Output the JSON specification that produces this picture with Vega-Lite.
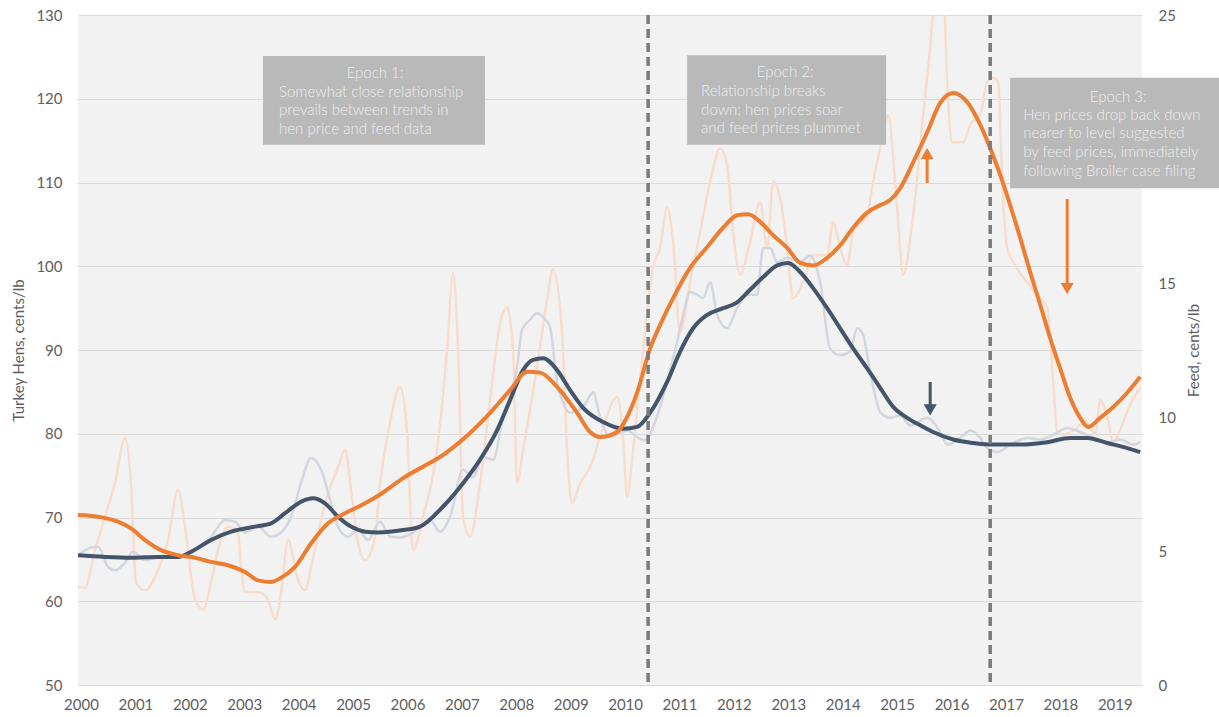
{
"$schema":"https://vega.github.io/schema/vega-lite/v6.json",
"width":1064,"height":670,
"autosize":{"type":"none"},
"padding":{"left":78,"top":15,"right":77,"bottom":32},
"background":"white",
"config":{"view":{"fill":"#f2f2f2","stroke":null},"font":"Lato","axis":{"labelFont":"Lato","titleFont":"Lato","labelFontWeight":400,"labelColor":"#606060","titleColor":"#606060","domain":false,"ticks":false,"titleFontWeight":400}},
"datasets":{
"henRaw":[{"t":1999.945,"v":61.7},{"t":2000.074,"v":61.6},{"t":2000.257,"v":66.1},{"t":2000.441,"v":70.1},{"t":2000.625,"v":74.1},{"t":2000.809,"v":79.5},{"t":2000.919,"v":74.1},{"t":2001.011,"v":62.2},{"t":2001.176,"v":61.3},{"t":2001.415,"v":63.7},{"t":2001.599,"v":67.3},{"t":2001.783,"v":73.3},{"t":2001.912,"v":68.9},{"t":2002.096,"v":60.2},{"t":2002.243,"v":59.0},{"t":2002.390,"v":62.2},{"t":2002.518,"v":66.1},{"t":2002.702,"v":68.9},{"t":2002.886,"v":68.2},{"t":2002.941,"v":64.1},{"t":2003.015,"v":61.1},{"t":2003.254,"v":61.1},{"t":2003.438,"v":60.2},{"t":2003.566,"v":57.8},{"t":2003.676,"v":61.0},{"t":2003.805,"v":67.3},{"t":2003.989,"v":62.5},{"t":2004.118,"v":61.3},{"t":2004.228,"v":64.1},{"t":2004.485,"v":71.7},{"t":2004.724,"v":76.0},{"t":2004.853,"v":78.1},{"t":2004.963,"v":73.3},{"t":2005.092,"v":67.0},{"t":2005.221,"v":64.9},{"t":2005.404,"v":67.7},{"t":2005.496,"v":74.1},{"t":2005.680,"v":81.3},{"t":2005.864,"v":85.6},{"t":2005.993,"v":80.1},{"t":2006.103,"v":66.1},{"t":2006.287,"v":70.1},{"t":2006.544,"v":78.1},{"t":2006.728,"v":90.0},{"t":2006.838,"v":99.2},{"t":2006.930,"v":90.0},{"t":2007.022,"v":70.1},{"t":2007.151,"v":67.7},{"t":2007.335,"v":74.1},{"t":2007.518,"v":84.0},{"t":2007.702,"v":93.2},{"t":2007.831,"v":95.1},{"t":2007.941,"v":90.0},{"t":2008.015,"v":74.1},{"t":2008.125,"v":78.1},{"t":2008.382,"v":88.0},{"t":2008.566,"v":96.0},{"t":2008.676,"v":99.6},{"t":2008.842,"v":92.0},{"t":2008.934,"v":78.1},{"t":2009.026,"v":71.7},{"t":2009.173,"v":74.1},{"t":2009.357,"v":76.0},{"t":2009.596,"v":80.8},{"t":2009.853,"v":84.4},{"t":2009.963,"v":79.6},{"t":2010.037,"v":72.5},{"t":2010.147,"v":78.1},{"t":2010.331,"v":90.0},{"t":2010.515,"v":99.9},{"t":2010.643,"v":102.2},{"t":2010.772,"v":107.0},{"t":2010.882,"v":102.9},{"t":2011.011,"v":92.1},{"t":2011.195,"v":98.1},{"t":2011.379,"v":104.1},{"t":2011.563,"v":110.1},{"t":2011.746,"v":114.1},{"t":2011.875,"v":112.1},{"t":2011.985,"v":104.1},{"t":2012.114,"v":99.0},{"t":2012.298,"v":102.9},{"t":2012.482,"v":107.7},{"t":2012.610,"v":102.2},{"t":2012.721,"v":110.1},{"t":2012.849,"v":108.2},{"t":2012.978,"v":102.2},{"t":2013.088,"v":96.2},{"t":2013.272,"v":98.1},{"t":2013.456,"v":101.3},{"t":2013.713,"v":101.3},{"t":2013.824,"v":105.3},{"t":2013.952,"v":102.2},{"t":2014.081,"v":100.1},{"t":2014.191,"v":104.1},{"t":2014.449,"v":106.1},{"t":2014.559,"v":110.1},{"t":2014.688,"v":114.1},{"t":2014.835,"v":118.0},{"t":2015.000,"v":106.9},{"t":2015.110,"v":99.0},{"t":2015.294,"v":106.1},{"t":2015.478,"v":118.0},{"t":2015.607,"v":126.1},{"t":2015.717,"v":134.0},{"t":2015.846,"v":134.0},{"t":2015.919,"v":122.0},{"t":2016.011,"v":114.8},{"t":2016.213,"v":114.8},{"t":2016.342,"v":116.9},{"t":2016.526,"v":118.1},{"t":2016.654,"v":122.0},{"t":2016.765,"v":122.5},{"t":2016.857,"v":122.0},{"t":2016.930,"v":110.1},{"t":2017.022,"v":102.2},{"t":2017.132,"v":100.5},{"t":2017.390,"v":98.1},{"t":2017.574,"v":96.6},{"t":2017.757,"v":95.0},{"t":2017.868,"v":86.2},{"t":2017.941,"v":80.2},{"t":2018.051,"v":79.9},{"t":2018.272,"v":80.5},{"t":2018.456,"v":81.5},{"t":2018.640,"v":80.0},{"t":2018.732,"v":84.0},{"t":2018.860,"v":82.0},{"t":2018.971,"v":79.0},{"t":2019.099,"v":80.5},{"t":2019.283,"v":83.5},{"t":2019.467,"v":85.5}],
"henTrend":[{"t":1999.945,"v":70.3},{"t":2000.313,"v":70.1},{"t":2000.680,"v":69.5},{"t":2000.919,"v":68.7},{"t":2001.177,"v":67.3},{"t":2001.471,"v":66.1},{"t":2001.783,"v":65.5},{"t":2002.096,"v":65.2},{"t":2002.390,"v":64.7},{"t":2002.702,"v":64.3},{"t":2003.015,"v":63.5},{"t":2003.254,"v":62.5},{"t":2003.493,"v":62.3},{"t":2003.677,"v":62.8},{"t":2003.934,"v":64.1},{"t":2004.228,"v":66.9},{"t":2004.541,"v":69.3},{"t":2004.853,"v":70.5},{"t":2005.221,"v":71.7},{"t":2005.460,"v":72.6},{"t":2005.919,"v":74.7},{"t":2006.728,"v":77.8},{"t":2007.151,"v":80.1},{"t":2007.519,"v":82.5},{"t":2007.886,"v":85.2},{"t":2008.199,"v":87.4},{"t":2008.438,"v":87.3},{"t":2008.750,"v":85.6},{"t":2009.118,"v":82.5},{"t":2009.357,"v":80.2},{"t":2009.541,"v":79.6},{"t":2009.853,"v":80.2},{"t":2010.037,"v":82.0},{"t":2010.221,"v":84.9},{"t":2010.460,"v":90.2},{"t":2010.644,"v":93.0},{"t":2010.883,"v":96.2},{"t":2011.195,"v":99.8},{"t":2011.508,"v":102.3},{"t":2011.802,"v":104.6},{"t":2012.059,"v":106.1},{"t":2012.261,"v":106.2},{"t":2012.482,"v":105.3},{"t":2012.721,"v":103.7},{"t":2012.978,"v":102.2},{"t":2013.217,"v":100.4},{"t":2013.456,"v":100.1},{"t":2013.713,"v":101.0},{"t":2013.952,"v":102.5},{"t":2014.191,"v":104.6},{"t":2014.449,"v":106.4},{"t":2014.688,"v":107.3},{"t":2014.871,"v":107.9},{"t":2015.055,"v":109.3},{"t":2015.294,"v":112.4},{"t":2015.552,"v":116.0},{"t":2015.791,"v":119.5},{"t":2016.030,"v":120.7},{"t":2016.287,"v":119.6},{"t":2016.526,"v":116.9},{"t":2016.710,"v":114.1},{"t":2016.894,"v":110.9},{"t":2017.077,"v":107.3},{"t":2017.261,"v":103.4},{"t":2017.445,"v":99.3},{"t":2017.629,"v":95.4},{"t":2017.813,"v":91.4},{"t":2017.996,"v":87.8},{"t":2018.180,"v":84.3},{"t":2018.364,"v":81.9},{"t":2018.511,"v":80.8},{"t":2018.732,"v":81.9},{"t":2018.971,"v":83.2},{"t":2019.228,"v":84.9},{"t":2019.467,"v":86.8}],
"feedRaw":[{"t":1999.945,"f":4.84},{"t":2000.184,"f":5.13},{"t":2000.313,"f":5.16},{"t":2000.496,"f":4.41},{"t":2000.625,"f":4.28},{"t":2000.809,"f":4.56},{"t":2000.956,"f":4.97},{"t":2001.176,"f":4.66},{"t":2001.471,"f":4.78},{"t":2001.783,"f":4.75},{"t":2002.096,"f":5.03},{"t":2002.390,"f":5.53},{"t":2002.647,"f":6.16},{"t":2002.831,"f":6.09},{"t":2003.015,"f":5.69},{"t":2003.254,"f":5.91},{"t":2003.493,"f":5.53},{"t":2003.676,"f":5.69},{"t":2003.860,"f":6.28},{"t":2004.044,"f":7.53},{"t":2004.228,"f":8.47},{"t":2004.412,"f":8.03},{"t":2004.596,"f":6.78},{"t":2004.724,"f":5.91},{"t":2004.908,"f":5.53},{"t":2005.092,"f":5.78},{"t":2005.276,"f":5.41},{"t":2005.496,"f":6.09},{"t":2005.680,"f":5.53},{"t":2005.864,"f":5.50},{"t":2006.103,"f":5.69},{"t":2006.415,"f":6.16},{"t":2006.599,"f":5.72},{"t":2006.783,"f":6.28},{"t":2007.022,"f":8.03},{"t":2007.206,"f":7.75},{"t":2007.390,"f":8.50},{"t":2007.574,"f":8.41},{"t":2007.757,"f":10.00},{"t":2008.015,"f":11.88},{"t":2008.107,"f":13.25},{"t":2008.254,"f":13.63},{"t":2008.382,"f":13.88},{"t":2008.493,"f":13.72},{"t":2008.621,"f":13.34},{"t":2008.750,"f":11.28},{"t":2008.860,"f":10.53},{"t":2008.989,"f":10.16},{"t":2009.228,"f":10.38},{"t":2009.412,"f":10.91},{"t":2009.540,"f":10.00},{"t":2009.724,"f":9.25},{"t":2010.037,"f":9.50},{"t":2010.221,"f":9.25},{"t":2010.368,"f":9.13},{"t":2010.551,"f":9.81},{"t":2010.772,"f":11.31},{"t":2010.956,"f":12.81},{"t":2011.066,"f":13.81},{"t":2011.195,"f":14.66},{"t":2011.324,"f":14.56},{"t":2011.434,"f":14.44},{"t":2011.563,"f":15.03},{"t":2011.691,"f":13.81},{"t":2011.875,"f":13.31},{"t":2012.059,"f":14.06},{"t":2012.243,"f":14.56},{"t":2012.426,"f":14.56},{"t":2012.537,"f":16.31},{"t":2012.665,"f":16.31},{"t":2012.794,"f":15.78},{"t":2012.978,"f":15.94},{"t":2013.217,"f":15.78},{"t":2013.401,"f":16.03},{"t":2013.585,"f":15.03},{"t":2013.768,"f":12.56},{"t":2013.952,"f":12.31},{"t":2014.136,"f":12.44},{"t":2014.265,"f":13.31},{"t":2014.375,"f":13.06},{"t":2014.504,"f":11.69},{"t":2014.688,"f":10.19},{"t":2014.871,"f":9.97},{"t":2015.055,"f":10.06},{"t":2015.239,"f":9.69},{"t":2015.551,"f":9.97},{"t":2015.790,"f":9.44},{"t":2015.919,"f":8.97},{"t":2016.158,"f":9.22},{"t":2016.342,"f":9.50},{"t":2016.526,"f":9.22},{"t":2016.654,"f":8.84},{"t":2016.838,"f":8.69},{"t":2017.077,"f":8.97},{"t":2017.390,"f":9.22},{"t":2017.629,"f":9.16},{"t":2017.868,"f":9.34},{"t":2018.125,"f":9.59},{"t":2018.364,"f":9.44},{"t":2018.603,"f":9.22},{"t":2018.860,"f":9.06},{"t":2019.099,"f":9.16},{"t":2019.338,"f":8.97},{"t":2019.467,"f":9.06}],
"feedTrend":[{"t":1999.945,"f":4.84},{"t":2000.441,"f":4.78},{"t":2000.919,"f":4.75},{"t":2001.416,"f":4.78},{"t":2001.783,"f":4.78},{"t":2002.022,"f":4.97},{"t":2002.390,"f":5.41},{"t":2002.758,"f":5.72},{"t":2003.199,"f":5.91},{"t":2003.493,"f":6.03},{"t":2003.750,"f":6.41},{"t":2004.044,"f":6.84},{"t":2004.265,"f":6.97},{"t":2004.485,"f":6.78},{"t":2004.724,"f":6.28},{"t":2004.963,"f":5.91},{"t":2005.221,"f":5.72},{"t":2005.460,"f":5.69},{"t":2005.919,"f":5.78},{"t":2006.232,"f":5.91},{"t":2006.655,"f":6.66},{"t":2007.022,"f":7.53},{"t":2007.335,"f":8.41},{"t":2007.647,"f":9.50},{"t":2007.886,"f":10.63},{"t":2008.125,"f":11.75},{"t":2008.309,"f":12.13},{"t":2008.493,"f":12.19},{"t":2008.750,"f":11.75},{"t":2008.989,"f":11.00},{"t":2009.228,"f":10.34},{"t":2009.596,"f":9.81},{"t":2009.963,"f":9.56},{"t":2010.221,"f":9.63},{"t":2010.460,"f":10.16},{"t":2010.772,"f":11.31},{"t":2011.011,"f":12.44},{"t":2011.250,"f":13.31},{"t":2011.508,"f":13.81},{"t":2011.802,"f":14.06},{"t":2012.059,"f":14.28},{"t":2012.298,"f":14.75},{"t":2012.537,"f":15.22},{"t":2012.794,"f":15.66},{"t":2012.996,"f":15.75},{"t":2013.217,"f":15.41},{"t":2013.456,"f":14.81},{"t":2013.713,"f":14.06},{"t":2013.952,"f":13.31},{"t":2014.191,"f":12.56},{"t":2014.449,"f":11.81},{"t":2014.688,"f":11.09},{"t":2014.927,"f":10.38},{"t":2015.184,"f":9.97},{"t":2015.423,"f":9.69},{"t":2015.662,"f":9.44},{"t":2016.030,"f":9.16},{"t":2016.397,"f":9.03},{"t":2016.765,"f":8.97},{"t":2017.261,"f":8.97},{"t":2017.758,"f":9.06},{"t":2018.180,"f":9.22},{"t":2018.493,"f":9.22},{"t":2018.860,"f":9.03},{"t":2019.228,"f":8.84},{"t":2019.467,"f":8.69}],
"boxes":[{"t":2003.346,"t2":2007.426,"v":125.1,"v2":114.5},{"t":2011.140,"t2":2014.798,"v":125.2,"v2":114.5},{"t":2017.077,"t2":2020.919,"v":122.5,"v2":109.3}],
"titles":[{"t":2005.404,"v":123.07,"label":"Epoch 1:"},{"t":2012.941,"v":123.19,"label":"Epoch 2:"},{"t":2019.063,"v":120.21,"label":"Epoch 3:"}],
"bodies":[{"t":2003.640,"v":120.80,"label":"Somewhat close relationship"},{"t":2003.640,"v":118.66,"label":"prevails  between trends in"},{"t":2003.640,"v":116.39,"label":"hen price and feed data"},{"t":2011.397,"v":120.92,"label":"Relationship breaks"},{"t":2011.397,"v":118.66,"label":"down: hen prices soar"},{"t":2011.397,"v":116.51,"label":"and feed prices plummet"},{"t":2017.316,"v":118.06,"label":"Hen prices drop back down"},{"t":2017.316,"v":115.91,"label":"nearer to level suggested"},{"t":2017.316,"v":113.64,"label":"by feed prices, immediately"},{"t":2017.316,"v":111.37,"label":"following Broiler case filing"}],
"dashes":[{"t":2010.423,"event":"Epoch 2 start"},{"t":2016.710,"event":"Broiler case filing"}],
"shafts":[{"t":2015.551,"v":109.94,"v2":113.3,"series":"hen"},{"t":2015.607,"v":86.18,"v2":82.6,"series":"feed"},{"t":2018.125,"v":108.03,"v2":97.1,"series":"hen"}],
"heads":[{"t":2015.551,"v":113.46,"dir":"up","series":"hen"},{"t":2015.607,"v":82.84,"dir":"down","series":"feed"},{"t":2018.125,"v":97.34,"dir":"down","series":"hen"}]
},
"encoding":{"x":{"field":"t","type":"quantitative","scale":{"domain":[1999.945,2019.5],"nice":false,"zero":false},"axis":{"values":[2000,2001,2002,2003,2004,2005,2006,2007,2008,2009,2010,2011,2012,2013,2014,2015,2016,2017,2018,2019],"format":"d","grid":false,"labelFontSize":15,"labelPadding":12,"labelFlush":false,"labelOverlap":false,"title":null}}},
"layer":[
{"data":{"name":"henRaw"},"mark":{"type":"line","color":"#f9ddcc","strokeWidth":2.5,"interpolate":"monotone","clip":true},
 "encoding":{"y":{"field":"v","type":"quantitative","scale":{"domain":[50,130],"nice":false,"zero":false},"axis":{"orient":"left","values":[50,60,70,80,90,100,110,120,130],"grid":true,"gridColor":"#d9d9d9","gridWidth":1,"labelFontSize":15,"labelPadding":16,"title":"Turkey Hens, cents/lb","titleFontSize":15,"titlePadding":9}}}},
{"data":{"name":"feedRaw"},"mark":{"type":"line","color":"#d2d6de","strokeWidth":2.5,"interpolate":"monotone"},
 "encoding":{"y":{"field":"f","type":"quantitative","scale":{"domain":[0,25],"nice":false,"zero":false},"axis":{"orient":"right","values":[0,5,10,15,25],"grid":false,"labelFontSize":15,"labelPadding":16,"title":"Feed, cents/lb","titleAngle":270,"titleFontSize":15,"titlePadding":26}}}},
{"data":{"name":"feedTrend"},"mark":{"type":"line","color":"#44546A","strokeWidth":4,"interpolate":"monotone"},
 "encoding":{"y":{"field":"f","type":"quantitative","scale":{"domain":[0,25],"nice":false,"zero":false},"axis":null}}},
{"layer":[
 {"data":{"name":"henTrend"},"mark":{"type":"line","color":"#ED7D31","strokeWidth":4,"interpolate":"monotone"},
  "encoding":{"y":{"field":"v","type":"quantitative","scale":{"domain":[50,130],"nice":false,"zero":false},"axis":null}}},
 {"data":{"name":"dashes"},"mark":{"type":"rule","color":"#7a7a7a","strokeWidth":3.5,"strokeDash":[9,5]},"encoding":{}},
 {"data":{"name":"boxes"},"mark":{"type":"rect","color":"#b9b9b9"},
  "encoding":{"x2":{"field":"t2"},"y":{"field":"v","type":"quantitative","scale":{"domain":[50,130],"nice":false,"zero":false},"axis":null},"y2":{"field":"v2"}}},
 {"data":{"name":"titles"},"mark":{"type":"text","align":"center","baseline":"middle","fontSize":15,"font":"Lato","fontWeight":300,"color":"#eeeeee"},
  "encoding":{"text":{"field":"label"},"y":{"field":"v","type":"quantitative","scale":{"domain":[50,130],"nice":false,"zero":false},"axis":null}}},
 {"data":{"name":"bodies"},"mark":{"type":"text","align":"left","baseline":"middle","fontSize":15,"font":"Lato","fontWeight":300,"color":"#eeeeee"},
  "encoding":{"text":{"field":"label"},"y":{"field":"v","type":"quantitative","scale":{"domain":[50,130],"nice":false,"zero":false},"axis":null}}},
 {"data":{"name":"shafts"},"mark":{"type":"rule","strokeWidth":3},
  "encoding":{"y":{"field":"v","type":"quantitative","scale":{"domain":[50,130],"nice":false,"zero":false},"axis":null},"y2":{"field":"v2"},"color":{"field":"series","type":"nominal","scale":{"domain":["hen","feed"],"range":["#ED7D31","#44546A"]},"legend":null}}},
 {"data":{"name":"heads"},"mark":{"type":"point","filled":true,"size":170,"opacity":1},
  "encoding":{"y":{"field":"v","type":"quantitative","scale":{"domain":[50,130],"nice":false,"zero":false},"axis":null},"color":{"field":"series","type":"nominal","scale":{"domain":["hen","feed"],"range":["#ED7D31","#44546A"]},"legend":null},"shape":{"field":"dir","type":"nominal","scale":{"domain":["up","down"],"range":["triangle-up","triangle-down"]},"legend":null}}}
]}
],
"resolve":{"scale":{"y":"independent"}}
}
